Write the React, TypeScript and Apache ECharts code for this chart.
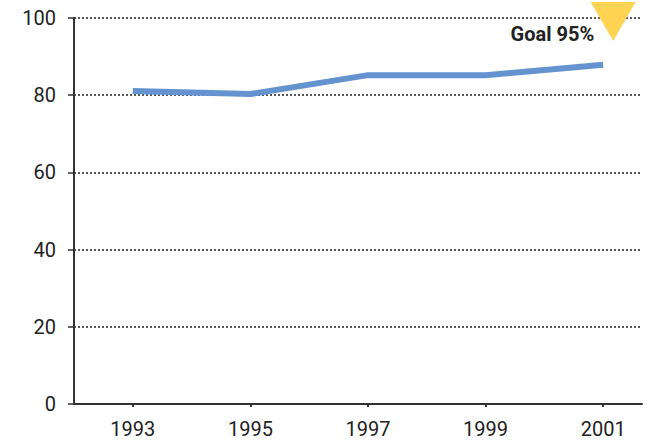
import React, { useEffect, useRef } from "react";
import * as echarts from "echarts";

const years = [1993, 1995, 1997, 1999, 2001];
const rates = [81.1, 80.3, 85.2, 85.2, 87.9];
const yTicks = [0, 20, 40, 60, 80, 100];
const goalYear = 2001.17;
const goalValue = 95;
const goalLabel = "Goal 95%";

export default function App() {
  const ref = useRef<HTMLDivElement>(null);
  useEffect(() => {
    if (!ref.current) return;
    const chart = echarts.init(ref.current, null, { renderer: "svg" });
    const font = "Roboto, 'Liberation Sans', sans-serif";
    chart.setOption({
      animation: false,
      backgroundColor: "#ffffff",
      grid: { left: 74, top: 18, right: 11, bottom: 39, containLabel: false },
      xAxis: {
        type: "value",
        min: 1992,
        max: 2001.66,
        splitLine: { show: false },
        axisLine: { show: true, lineStyle: { color: "#333", width: 2 } },
        axisTick: {
          show: true,
          customValues: years,
          length: 3,
          lineStyle: { color: "#333", width: 2 },
        },
        axisLabel: {
          customValues: years,
          formatter: (v: number) => String(v),
          margin: 15,
          color: "#222",
          fontSize: 20,
          fontFamily: font,
        },
      },
      yAxis: {
        type: "value",
        min: yTicks[0],
        max: yTicks[yTicks.length - 1],
        interval: 20,
        axisLine: { show: true, lineStyle: { color: "#333", width: 2 } },
        axisTick: { show: true, length: 6, lineStyle: { color: "#333", width: 1.5 } },
        axisLabel: { margin: 18, color: "#222", fontSize: 20, fontFamily: font },
        splitLine: {
          show: true,
          lineStyle: { color: "#222", width: 1.5, type: [2, 2] },
        },
      },
      series: [
        {
          type: "line",
          data: years.map((y, i) => [y, rates[i]]),
          symbol: "none",
          lineStyle: { color: "#6593d0", width: 6, cap: "butt", join: "miter" },
          z: 3,
        },
        {
          type: "scatter",
          data: [[goalYear, goalValue]],
          symbol: "path://M0,0 L45,0 L22.5,39 Z",
          symbolSize: [45, 39],
          symbolOffset: [0, -15.75],
          itemStyle: { color: "#ffd455", opacity: 1 },
          silent: true,
          z: 4,
        },
        {
          type: "scatter",
          data: [[goalYear, goalValue]],
          symbolSize: 1,
          itemStyle: { color: "#ffffff", opacity: 0 },
          label: {
            show: true,
            position: "left",
            distance: 18.5,
            offset: [0, -3],
            formatter: goalLabel,
            color: "#222",
            opacity: 1,
            fontSize: 20,
            fontWeight: "bold",
            fontFamily: font,
          },
          silent: true,
          z: 5,
        },
      ],
    });
    return () => chart.dispose();
  }, []);
  return <div ref={ref} style={{ width: 653, height: 443, position: "absolute", left: 0, top: 0 }} />;
}
